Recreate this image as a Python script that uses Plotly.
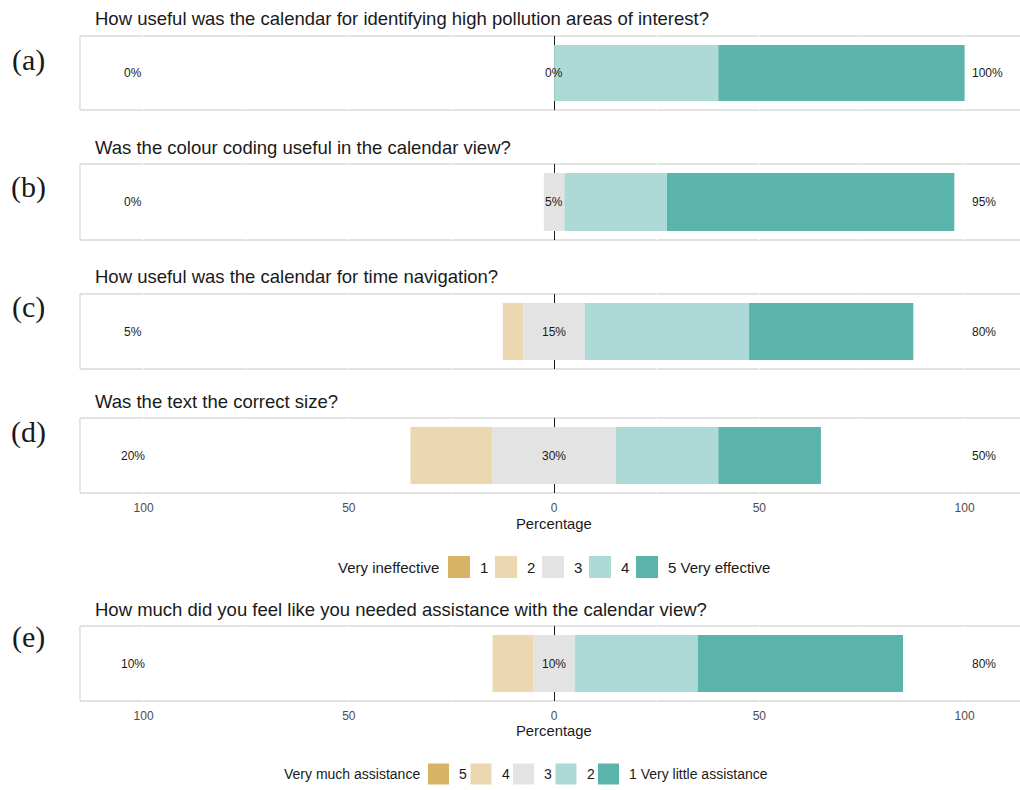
import plotly.graph_objects as go

W, H = 1020, 790

# Survey questions and per-level response shares (%), lowest level first
questions = [
    "How useful was the calendar for identifying high pollution areas of interest?",
    "Was the colour coding useful in the calendar view?",
    "How useful was the calendar for time navigation?",
    "Was the text the correct size?",
    "How much did you feel like you needed assistance with the calendar view?",
]
panel_tags = ["(a)", "(b)", "(c)", "(d)", "(e)"]

shares_a = [0, 0, 0, 40, 60]
shares_b = [0, 0, 5, 25, 70]
shares_c = [0, 5, 15, 40, 40]
shares_d = [0, 20, 30, 25, 25]
shares_e = [0, 10, 10, 30, 50]
all_shares = [shares_a, shares_b, shares_c, shares_d, shares_e]

effect_levels = ["1", "2", "3", "4", "5 Very effective"]
effect_title = "Very ineffective"
assist_levels = ["5", "4", "3", "2", "1 Very little assistance"]
assist_title = "Very much assistance"

level_colors = ["#D8B365", "#EBD8B1", "#E3E3E3", "#ADDAD6", "#5AB4AC"]

tick_vals = [-100, -50, 0, 50, 100]
tick_text = ["100", "50", "0", "50", "100"]
x_range = [-115.5, 113.5]

# pixel layout of each panel (top, bottom) and its title / tag rows
panel_px = [(36, 110), (164, 240), (294, 369), (418, 493), (626, 701)]
title_px = [18, 147, 276, 401, 609]
tag_px = [60, 187, 307, 432, 637]
x_left_px = 80

TXT = "#1A1A1A"
SANS = "Liberation Sans"


def py(v):
    return 1 - v / H


def px(v):
    return v / W


fig = go.Figure()
annotations = []
shapes = []

for i, shares in enumerate(all_shares):
    n = i + 1
    xa = "x" if n == 1 else f"x{n}"
    ya = "y" if n == 1 else f"y{n}"
    low1, low2, mid, high4, high5 = shares
    # stacked diverging segments: (start, length)
    segs = [
        (-mid / 2 - low2 - low1, low1),
        (-mid / 2 - low2, low2),
        (-mid / 2, mid),
        (mid / 2, high4),
        (mid / 2 + high4, high5),
    ]
    for k, (start, length) in enumerate(segs):
        if length <= 0:
            continue
        fig.add_trace(go.Bar(
            x=[length], base=[start], y=[0], orientation="h",
            width=0.76, marker=dict(color=level_colors[k], line=dict(width=0)),
            xaxis=xa, yaxis=ya, showlegend=False, hoverinfo="skip",
        ))

    top, bot = panel_px[i]
    show_ticks = n in (4, 5)
    fig.layout[f"xaxis{'' if n == 1 else n}"] = dict(
        domain=[px(x_left_px), 1.0], range=x_range, anchor=ya,
        tickvals=tick_vals, ticktext=tick_text, showticklabels=show_ticks,
        tickfont=dict(family=SANS, size=12, color="#4D4D4D"),
        ticklabelstandoff=6,
        showgrid=True, gridcolor="white", gridwidth=1,
        minor=dict(tickvals=[-75, -25, 25, 75], showgrid=True,
                   gridcolor="white", gridwidth=1),
        zeroline=True, zerolinecolor="#1A1A1A", zerolinewidth=1.3,
        showline=False, ticks="", fixedrange=True,
    )
    fig.layout[f"yaxis{'' if n == 1 else n}"] = dict(
        domain=[py(bot), py(top)], range=[-0.5, 0.5], anchor=xa,
        showticklabels=False, showgrid=False, zeroline=False, ticks="",
        fixedrange=True,
    )

    # panel frame
    for (x0, y0, x1, y1) in [(0, 1, 1, 1), (0, 0, 1, 0), (0, 0, 0, 1)]:
        shapes.append(dict(type="line", xref=f"{xa} domain", yref=f"{ya} domain",
                           x0=x0, y0=y0, x1=x1, y1=y1, layer="below",
                           line=dict(color="#D9D9D9", width=1.3)))

    # percentage labels: negative (centred), neutral (centred), positive (left edge)
    for xv, txt, anchor in [(-102.6, low1 + low2, "center"), (0, mid, "center"),
                            (101.3, high4 + high5, "left")]:
        annotations.append(dict(x=xv, y=0, xref=xa, yref=ya, text=f"{txt:g}%",
                                showarrow=False, xanchor=anchor, yanchor="middle",
                                font=dict(family=SANS, size=12, color=TXT)))

    annotations.append(dict(x=px(93), y=py(title_px[i]), xref="paper", yref="paper",
                            text=questions[i], showarrow=False, xanchor="left",
                            yanchor="middle",
                            font=dict(family=SANS, size=18.5, color=TXT)))
    annotations.append(dict(x=px(28), y=py(tag_px[i]), xref="paper", yref="paper",
                            text=panel_tags[i], showarrow=False, xanchor="center",
                            yanchor="middle",
                            font=dict(family="Liberation Serif", size=30, color=TXT)))

# axis titles under the panels that carry tick labels
for ypos in (524, 731):
    annotations.append(dict(x=px(554), y=py(ypos), xref="paper", yref="paper",
                            text="Percentage", showarrow=False,
                            xanchor="center", yanchor="middle",
                            font=dict(family=SANS, size=14.8, color=TXT)))


def add_key(title, labels, title_right, first_x, step, size, ymid, fsize):
    annotations.append(dict(x=px(title_right), y=py(ymid), xref="paper", yref="paper",
                            text=title, showarrow=False, xanchor="right",
                            yanchor="middle",
                            font=dict(family=SANS, size=fsize, color=TXT)))
    for k, lab in enumerate(labels):
        x0 = first_x + k * step
        shapes.append(dict(type="rect", xref="paper", yref="paper",
                           x0=px(x0), x1=px(x0 + size),
                           y0=py(ymid + size / 2), y1=py(ymid - size / 2),
                           fillcolor=level_colors[k], line=dict(width=0)))
        annotations.append(dict(x=px(x0 + size + 8), y=py(ymid), xref="paper",
                                yref="paper", text=lab, showarrow=False, xanchor="left",
                                yanchor="middle",
                                font=dict(family=SANS, size=fsize, color=TXT)))


add_key(effect_title, effect_levels, 441, 448, 47, 22, 567, 15)
add_key(assist_title, assist_levels, 422, 428, 42.5, 21, 774, 14)

fig.update_layout(
    width=W, height=H, margin=dict(l=0, r=0, t=0, b=0),
    paper_bgcolor="white", plot_bgcolor="white",
    barmode="overlay", showlegend=False,
    annotations=annotations, shapes=shapes,
)

fig.write_html("out.html")
